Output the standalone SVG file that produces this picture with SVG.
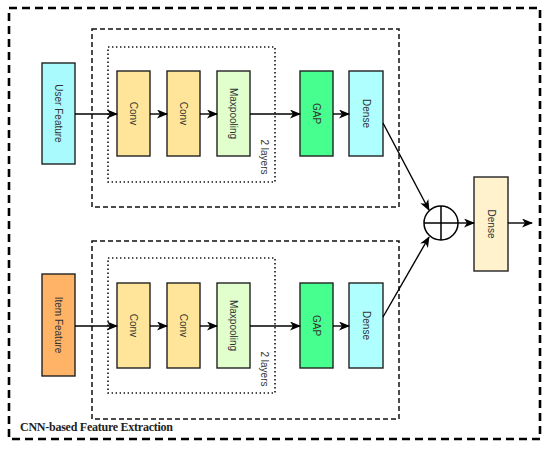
<svg xmlns="http://www.w3.org/2000/svg" width="550" height="449" viewBox="0 0 550 449">
<style>
.box{stroke:#222;stroke-width:1.4}
.lbl{font-family:"Liberation Sans",Arial,sans-serif;font-size:10px;fill:#333;text-anchor:middle;dominant-baseline:central}
.con{stroke:#000;stroke-width:1.4;fill:none}
.dash{fill:none;stroke:#111;stroke-width:1.5;stroke-dasharray:5,3}
.dot{fill:none;stroke:#111;stroke-width:1.6;stroke-dasharray:1.4,2.6}
</style>
<defs>
<marker id="ah" viewBox="0 0 11 9" refX="10" refY="4.5" markerWidth="11" markerHeight="9" markerUnits="userSpaceOnUse" orient="auto">
<path d="M0,0 L11,4.5 L0,9 L3,4.5 z" fill="#000"/>
</marker>
</defs>
<rect width="550" height="449" fill="#fff"/>
<g id="outer">
<rect x="9" y="8" width="531" height="431" fill="none" stroke="#000" stroke-width="2.6" stroke-dasharray="8,5"/>
<text x="20" y="431" font-family="'Liberation Serif',serif" font-weight="bold" font-size="12" fill="#222" textLength="153">CNN-based Feature Extraction</text>
</g>
<g id="upper-group">
<rect class="dash" x="92" y="29" width="307" height="178"/>
<rect class="dot" x="108" y="47" width="167" height="135"/>
<text class="lbl" transform="translate(264,157) rotate(90)">2 layers</text>
</g>
<g id="lower-group">
<rect class="dash" x="92" y="241" width="307" height="178"/>
<rect class="dot" x="108" y="258" width="167" height="135"/>
<text class="lbl" transform="translate(264,369) rotate(90)">2 layers</text>
</g>
<g id="user-feature"><rect class="box" x="42" y="63" width="33" height="101" fill="#A9FAFC"/><text class="lbl" transform="translate(58.5,113.5) rotate(90)">User Feature</text></g>
<g id="u-conv1"><rect class="box" x="117" y="71" width="33" height="85" fill="#FFE599"/><text class="lbl" transform="translate(133.5,113.5) rotate(90)">Conv</text></g>
<g id="u-conv2"><rect class="box" x="167" y="71" width="33" height="85" fill="#FFE599"/><text class="lbl" transform="translate(183.5,113.5) rotate(90)">Conv</text></g>
<g id="u-maxpool"><rect class="box" x="217" y="71" width="33" height="85" fill="#E0FFCC"/><text class="lbl" transform="translate(233.5,113.5) rotate(90)">Maxpooling</text></g>
<g id="u-gap"><rect class="box" x="300" y="71" width="33" height="85" fill="#47FF8E"/><text class="lbl" transform="translate(316.5,113.5) rotate(90)">GAP</text></g>
<g id="u-dense"><rect class="box" x="349" y="71" width="34" height="85" fill="#AFFFFF"/><text class="lbl" transform="translate(366,113.5) rotate(90)">Dense</text></g>
<g id="item-feature"><rect class="box" x="42" y="274" width="33" height="102" fill="#FFB366"/><text class="lbl" transform="translate(58.5,325) rotate(90)">Item Feature</text></g>
<g id="i-conv1"><rect class="box" x="117" y="283" width="33" height="85" fill="#FFE599"/><text class="lbl" transform="translate(133.5,325.5) rotate(90)">Conv</text></g>
<g id="i-conv2"><rect class="box" x="167" y="283" width="33" height="85" fill="#FFE599"/><text class="lbl" transform="translate(183.5,325.5) rotate(90)">Conv</text></g>
<g id="i-maxpool"><rect class="box" x="217" y="283" width="33" height="85" fill="#E0FFCC"/><text class="lbl" transform="translate(233.5,325.5) rotate(90)">Maxpooling</text></g>
<g id="i-gap"><rect class="box" x="300" y="283" width="33" height="85" fill="#47FF8E"/><text class="lbl" transform="translate(316.5,325.5) rotate(90)">GAP</text></g>
<g id="i-dense"><rect class="box" x="349" y="283" width="34" height="85" fill="#AFFFFF"/><text class="lbl" transform="translate(366,325.5) rotate(90)">Dense</text></g>
<g id="sum"><circle cx="441" cy="223" r="17" fill="#fff" stroke="#000" stroke-width="1.5"/><path d="M424,223 H458 M441,206 V240" stroke="#000" stroke-width="1.5"/></g>
<g id="final-dense"><rect class="box" x="474" y="177" width="34" height="94" fill="#FFF2CC"/><text class="lbl" transform="translate(491,224) rotate(90)">Dense</text></g>
<g id="connectors">
<line class="con" x1="75" y1="114" x2="117" y2="114" marker-end="url(#ah)"/>
<line class="con" x1="150" y1="114" x2="167" y2="114" marker-end="url(#ah)"/>
<line class="con" x1="200" y1="114" x2="217" y2="114" marker-end="url(#ah)"/>
<line class="con" x1="250" y1="114" x2="300" y2="114" marker-end="url(#ah)"/>
<line class="con" x1="333" y1="114" x2="349" y2="114" marker-end="url(#ah)"/>
<line class="con" x1="75" y1="326" x2="117" y2="326" marker-end="url(#ah)"/>
<line class="con" x1="150" y1="326" x2="167" y2="326" marker-end="url(#ah)"/>
<line class="con" x1="200" y1="326" x2="217" y2="326" marker-end="url(#ah)"/>
<line class="con" x1="250" y1="326" x2="300" y2="326" marker-end="url(#ah)"/>
<line class="con" x1="333" y1="326" x2="349" y2="326" marker-end="url(#ah)"/>
<line class="con" x1="383" y1="123" x2="429" y2="210" marker-end="url(#ah)"/>
<line class="con" x1="383" y1="317" x2="429" y2="237" marker-end="url(#ah)"/>
<line class="con" x1="458" y1="223" x2="474" y2="223" marker-end="url(#ah)"/>
<line class="con" x1="508" y1="223" x2="532" y2="223" marker-end="url(#ah)"/>
</g>
</svg>
